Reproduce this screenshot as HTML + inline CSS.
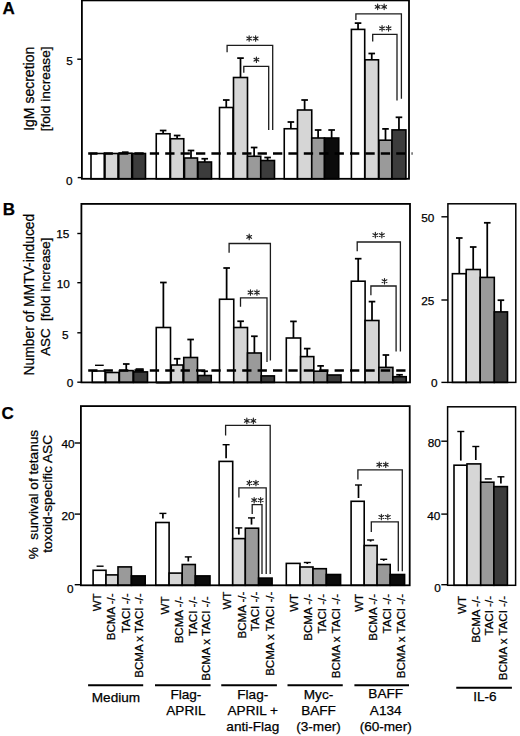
<!DOCTYPE html>
<html><head><meta charset="utf-8"><style>
html,body{margin:0;padding:0;background:#fff;}
svg{display:block;}
text{font-family:"Liberation Sans", sans-serif;fill:#000;stroke:#000;stroke-width:0.25px;}
</style></head><body>
<svg width="520" height="736" viewBox="0 0 520 736">
<rect width="520" height="736" fill="#fff"/>
<text x="2.40" y="14.10" font-size="17" text-anchor="start" font-weight="bold">A</text>
<text transform="translate(34.20,88.80) rotate(-90)" font-size="14.0" text-anchor="middle" font-weight="normal">IgM secretion</text>
<text transform="translate(50.00,88.90) rotate(-90)" font-size="13.65" text-anchor="middle" font-weight="normal">[fold increase]</text>
<line x1="77.30" y1="59.20" x2="81.50" y2="59.20" stroke="#000" stroke-width="1.4"/>
<text x="72.75" y="65.22" font-size="11.8" text-anchor="end">5</text>
<line x1="77.70" y1="177.60" x2="81.50" y2="177.60" stroke="#000" stroke-width="1.4"/>
<text x="72.45" y="184.52" font-size="11.8" text-anchor="end">0</text>
<rect x="91.00" y="153.50" width="13.25" height="25.30" fill="#ffffff" stroke="#000" stroke-width="1.6"/>
<rect x="105.00" y="153.50" width="13.00" height="25.30" fill="#d6d6d6" stroke="#000" stroke-width="1.6"/>
<line x1="125.25" y1="153.20" x2="125.25" y2="152.20" stroke="#000" stroke-width="1.75"/>
<line x1="121.95" y1="152.20" x2="128.55" y2="152.20" stroke="#000" stroke-width="1.75"/>
<rect x="118.75" y="153.20" width="13.00" height="25.60" fill="#9a9a9a" stroke="#000" stroke-width="1.6"/>
<rect x="132.50" y="153.50" width="13.00" height="25.30" fill="#3c3c3c" stroke="#000" stroke-width="1.6"/>
<line x1="163.12" y1="133.75" x2="163.12" y2="130.50" stroke="#000" stroke-width="1.75"/>
<line x1="159.82" y1="130.50" x2="166.43" y2="130.50" stroke="#000" stroke-width="1.75"/>
<rect x="156.25" y="133.75" width="13.75" height="45.05" fill="#ffffff" stroke="#000" stroke-width="1.6"/>
<line x1="177.12" y1="138.75" x2="177.12" y2="135.50" stroke="#000" stroke-width="1.75"/>
<line x1="173.82" y1="135.50" x2="180.43" y2="135.50" stroke="#000" stroke-width="1.75"/>
<rect x="170.50" y="138.75" width="13.25" height="40.05" fill="#d6d6d6" stroke="#000" stroke-width="1.6"/>
<line x1="191.00" y1="158.00" x2="191.00" y2="150.50" stroke="#000" stroke-width="1.75"/>
<line x1="187.70" y1="150.50" x2="194.30" y2="150.50" stroke="#000" stroke-width="1.75"/>
<rect x="184.50" y="158.00" width="13.00" height="20.80" fill="#9a9a9a" stroke="#000" stroke-width="1.6"/>
<line x1="204.75" y1="162.00" x2="204.75" y2="158.75" stroke="#000" stroke-width="1.75"/>
<line x1="201.45" y1="158.75" x2="208.05" y2="158.75" stroke="#000" stroke-width="1.75"/>
<rect x="198.00" y="162.00" width="13.50" height="16.80" fill="#3c3c3c" stroke="#000" stroke-width="1.6"/>
<line x1="226.25" y1="107.50" x2="226.25" y2="100.00" stroke="#000" stroke-width="1.75"/>
<line x1="222.95" y1="100.00" x2="229.55" y2="100.00" stroke="#000" stroke-width="1.75"/>
<rect x="219.50" y="107.50" width="13.50" height="71.30" fill="#ffffff" stroke="#000" stroke-width="1.6"/>
<line x1="240.50" y1="77.50" x2="240.50" y2="58.10" stroke="#000" stroke-width="1.75"/>
<line x1="237.20" y1="58.10" x2="243.80" y2="58.10" stroke="#000" stroke-width="1.75"/>
<rect x="233.50" y="77.50" width="14.00" height="101.30" fill="#d6d6d6" stroke="#000" stroke-width="1.6"/>
<line x1="254.12" y1="156.25" x2="254.12" y2="147.50" stroke="#000" stroke-width="1.75"/>
<line x1="250.82" y1="147.50" x2="257.43" y2="147.50" stroke="#000" stroke-width="1.75"/>
<rect x="247.50" y="156.25" width="13.25" height="22.55" fill="#9a9a9a" stroke="#000" stroke-width="1.6"/>
<line x1="267.62" y1="160.50" x2="267.62" y2="157.50" stroke="#000" stroke-width="1.75"/>
<line x1="264.32" y1="157.50" x2="270.93" y2="157.50" stroke="#000" stroke-width="1.75"/>
<rect x="260.75" y="160.50" width="13.75" height="18.30" fill="#3c3c3c" stroke="#000" stroke-width="1.6"/>
<line x1="290.88" y1="128.75" x2="290.88" y2="122.00" stroke="#000" stroke-width="1.75"/>
<line x1="287.57" y1="122.00" x2="294.18" y2="122.00" stroke="#000" stroke-width="1.75"/>
<rect x="284.25" y="128.75" width="13.25" height="50.05" fill="#ffffff" stroke="#000" stroke-width="1.6"/>
<line x1="304.62" y1="110.00" x2="304.62" y2="100.00" stroke="#000" stroke-width="1.75"/>
<line x1="301.32" y1="100.00" x2="307.93" y2="100.00" stroke="#000" stroke-width="1.75"/>
<rect x="297.50" y="110.00" width="14.25" height="68.80" fill="#d6d6d6" stroke="#000" stroke-width="1.6"/>
<line x1="318.12" y1="138.00" x2="318.12" y2="130.00" stroke="#000" stroke-width="1.75"/>
<line x1="314.82" y1="130.00" x2="321.43" y2="130.00" stroke="#000" stroke-width="1.75"/>
<rect x="311.75" y="138.00" width="12.75" height="40.80" fill="#9a9a9a" stroke="#000" stroke-width="1.6"/>
<line x1="331.62" y1="138.00" x2="331.62" y2="130.00" stroke="#000" stroke-width="1.75"/>
<line x1="328.32" y1="130.00" x2="334.93" y2="130.00" stroke="#000" stroke-width="1.75"/>
<rect x="324.50" y="138.00" width="14.25" height="40.80" fill="#0b0b0b" stroke="#000" stroke-width="1.6"/>
<line x1="358.05" y1="29.40" x2="358.05" y2="23.10" stroke="#000" stroke-width="1.75"/>
<line x1="354.75" y1="23.10" x2="361.35" y2="23.10" stroke="#000" stroke-width="1.75"/>
<rect x="351.40" y="29.40" width="13.30" height="149.40" fill="#ffffff" stroke="#000" stroke-width="1.6"/>
<line x1="371.75" y1="59.80" x2="371.75" y2="53.50" stroke="#000" stroke-width="1.75"/>
<line x1="368.45" y1="53.50" x2="375.05" y2="53.50" stroke="#000" stroke-width="1.75"/>
<rect x="365.00" y="59.80" width="13.50" height="119.00" fill="#d6d6d6" stroke="#000" stroke-width="1.6"/>
<line x1="385.50" y1="140.20" x2="385.50" y2="128.90" stroke="#000" stroke-width="1.75"/>
<line x1="382.20" y1="128.90" x2="388.80" y2="128.90" stroke="#000" stroke-width="1.75"/>
<rect x="379.00" y="140.20" width="13.00" height="38.60" fill="#9a9a9a" stroke="#000" stroke-width="1.6"/>
<line x1="398.95" y1="129.90" x2="398.95" y2="117.30" stroke="#000" stroke-width="1.75"/>
<line x1="395.65" y1="117.30" x2="402.25" y2="117.30" stroke="#000" stroke-width="1.75"/>
<rect x="392.00" y="129.90" width="13.90" height="48.90" fill="#3c3c3c" stroke="#000" stroke-width="1.6"/>
<line x1="88.20" y1="153.5" x2="412.50" y2="153.5" stroke="#000" stroke-width="2.4" stroke-dasharray="9.3 6.1"/>
<path d="M227.10 52.20L227.10 45.30L272.70 45.30L272.70 130.00" fill="none" stroke="#1c1c1c" stroke-width="1.3"/>
<path d="M249.15 35.75L249.15 41.25M246.77 37.12L251.53 39.88M251.53 37.12L246.77 39.88" stroke="#222" stroke-width="1.15" stroke-linecap="round" fill="none"/>
<path d="M255.65 35.75L255.65 41.25M253.27 37.12L258.03 39.88M258.03 37.12L253.27 39.88" stroke="#222" stroke-width="1.15" stroke-linecap="round" fill="none"/>
<path d="M243.80 72.70L243.80 66.30L268.70 66.30L268.70 130.00" fill="none" stroke="#1c1c1c" stroke-width="1.3"/>
<path d="M256.40 56.95L256.40 62.45M254.02 58.33L258.78 61.08M258.78 58.33L254.02 61.08" stroke="#222" stroke-width="1.15" stroke-linecap="round" fill="none"/>
<path d="M355.90 20.00L355.90 13.80L401.40 13.80L401.40 98.70" fill="none" stroke="#1c1c1c" stroke-width="1.3"/>
<path d="M377.65 4.05L377.65 9.55M375.27 5.42L380.03 8.17M380.03 5.42L375.27 8.17" stroke="#222" stroke-width="1.15" stroke-linecap="round" fill="none"/>
<path d="M384.15 4.05L384.15 9.55M381.77 5.42L386.53 8.17M386.53 5.42L381.77 8.17" stroke="#222" stroke-width="1.15" stroke-linecap="round" fill="none"/>
<path d="M372.70 41.50L372.70 34.40L397.00 34.40L397.00 100.50" fill="none" stroke="#1c1c1c" stroke-width="1.3"/>
<path d="M382.05 25.55L382.05 31.05M379.67 26.93L384.43 29.68M384.43 26.93L379.67 29.68" stroke="#222" stroke-width="1.15" stroke-linecap="round" fill="none"/>
<path d="M388.55 25.55L388.55 31.05M386.17 26.93L390.93 29.68M390.93 26.93L386.17 29.68" stroke="#222" stroke-width="1.15" stroke-linecap="round" fill="none"/>
<rect x="81.9" y="0.4" width="327.10" height="178.40" fill="none" stroke="#000" stroke-width="1.8"/>
<text x="2.80" y="215.30" font-size="17" text-anchor="start" font-weight="bold">B</text>
<text transform="translate(34.00,294.60) rotate(-90)" font-size="13.86" text-anchor="middle" font-weight="normal">Number of MMTV-induced</text>
<text transform="translate(50.20,296.70) rotate(-90)" font-size="13.4" text-anchor="middle" font-weight="normal">ASC&#160;&#160;[fold increase]</text>
<line x1="77.30" y1="233.50" x2="81.40" y2="233.50" stroke="#000" stroke-width="1.4"/>
<text x="69.35" y="237.77" font-size="11.8" text-anchor="end">15</text>
<line x1="77.30" y1="282.70" x2="81.40" y2="282.70" stroke="#000" stroke-width="1.4"/>
<text x="69.75" y="288.22" font-size="11.8" text-anchor="end">10</text>
<line x1="77.30" y1="332.80" x2="81.40" y2="332.80" stroke="#000" stroke-width="1.4"/>
<text x="68.55" y="338.52" font-size="11.8" text-anchor="end">5</text>
<line x1="77.30" y1="382.20" x2="81.40" y2="382.20" stroke="#000" stroke-width="1.4"/>
<text x="73.35" y="386.72" font-size="11.8" text-anchor="end">0</text>
<rect x="92.25" y="371.00" width="12.75" height="11.40" fill="#ffffff" stroke="#000" stroke-width="1.6"/>
<rect x="105.80" y="372.50" width="13.20" height="9.90" fill="#d6d6d6" stroke="#000" stroke-width="1.6"/>
<line x1="126.25" y1="370.60" x2="126.25" y2="364.00" stroke="#000" stroke-width="1.75"/>
<line x1="122.95" y1="364.00" x2="129.55" y2="364.00" stroke="#000" stroke-width="1.75"/>
<rect x="119.40" y="370.60" width="13.70" height="11.80" fill="#9a9a9a" stroke="#000" stroke-width="1.6"/>
<rect x="133.60" y="371.90" width="13.90" height="10.50" fill="#3c3c3c" stroke="#000" stroke-width="1.6"/>
<line x1="163.38" y1="327.50" x2="163.38" y2="282.50" stroke="#000" stroke-width="1.75"/>
<line x1="160.07" y1="282.50" x2="166.68" y2="282.50" stroke="#000" stroke-width="1.75"/>
<rect x="156.25" y="327.50" width="14.25" height="54.90" fill="#ffffff" stroke="#000" stroke-width="1.6"/>
<line x1="177.12" y1="365.00" x2="177.12" y2="358.75" stroke="#000" stroke-width="1.75"/>
<line x1="173.82" y1="358.75" x2="180.43" y2="358.75" stroke="#000" stroke-width="1.75"/>
<rect x="171.25" y="365.00" width="11.75" height="17.40" fill="#d6d6d6" stroke="#000" stroke-width="1.6"/>
<line x1="190.62" y1="357.50" x2="190.62" y2="339.50" stroke="#000" stroke-width="1.75"/>
<line x1="187.32" y1="339.50" x2="193.93" y2="339.50" stroke="#000" stroke-width="1.75"/>
<rect x="183.75" y="357.50" width="13.75" height="24.90" fill="#9a9a9a" stroke="#000" stroke-width="1.6"/>
<line x1="204.62" y1="375.50" x2="204.62" y2="371.25" stroke="#000" stroke-width="1.75"/>
<line x1="201.32" y1="371.25" x2="207.93" y2="371.25" stroke="#000" stroke-width="1.75"/>
<rect x="198.00" y="375.50" width="13.25" height="6.90" fill="#3c3c3c" stroke="#000" stroke-width="1.6"/>
<line x1="226.62" y1="299.25" x2="226.62" y2="268.00" stroke="#000" stroke-width="1.75"/>
<line x1="223.32" y1="268.00" x2="229.93" y2="268.00" stroke="#000" stroke-width="1.75"/>
<rect x="219.50" y="299.25" width="14.25" height="83.15" fill="#ffffff" stroke="#000" stroke-width="1.6"/>
<line x1="240.62" y1="327.50" x2="240.62" y2="321.25" stroke="#000" stroke-width="1.75"/>
<line x1="237.32" y1="321.25" x2="243.93" y2="321.25" stroke="#000" stroke-width="1.75"/>
<rect x="233.75" y="327.50" width="13.75" height="54.90" fill="#d6d6d6" stroke="#000" stroke-width="1.6"/>
<line x1="254.38" y1="353.00" x2="254.38" y2="336.25" stroke="#000" stroke-width="1.75"/>
<line x1="251.07" y1="336.25" x2="257.68" y2="336.25" stroke="#000" stroke-width="1.75"/>
<rect x="247.50" y="353.00" width="13.75" height="29.40" fill="#9a9a9a" stroke="#000" stroke-width="1.6"/>
<rect x="261.25" y="375.90" width="13.15" height="6.50" fill="#3c3c3c" stroke="#000" stroke-width="1.6"/>
<line x1="293.45" y1="338.00" x2="293.45" y2="321.40" stroke="#000" stroke-width="1.75"/>
<line x1="290.15" y1="321.40" x2="296.75" y2="321.40" stroke="#000" stroke-width="1.75"/>
<rect x="286.30" y="338.00" width="14.30" height="44.40" fill="#ffffff" stroke="#000" stroke-width="1.6"/>
<line x1="307.20" y1="356.60" x2="307.20" y2="348.60" stroke="#000" stroke-width="1.75"/>
<line x1="303.90" y1="348.60" x2="310.50" y2="348.60" stroke="#000" stroke-width="1.75"/>
<rect x="300.60" y="356.60" width="13.20" height="25.80" fill="#d6d6d6" stroke="#000" stroke-width="1.6"/>
<line x1="320.60" y1="371.20" x2="320.60" y2="365.90" stroke="#000" stroke-width="1.75"/>
<line x1="317.30" y1="365.90" x2="323.90" y2="365.90" stroke="#000" stroke-width="1.75"/>
<rect x="313.80" y="371.20" width="13.60" height="11.20" fill="#9a9a9a" stroke="#000" stroke-width="1.6"/>
<rect x="327.40" y="375.00" width="13.60" height="7.40" fill="#3c3c3c" stroke="#000" stroke-width="1.6"/>
<line x1="358.20" y1="281.20" x2="358.20" y2="258.70" stroke="#000" stroke-width="1.75"/>
<line x1="354.90" y1="258.70" x2="361.50" y2="258.70" stroke="#000" stroke-width="1.75"/>
<rect x="351.30" y="281.20" width="13.80" height="101.20" fill="#ffffff" stroke="#000" stroke-width="1.6"/>
<line x1="372.00" y1="320.50" x2="372.00" y2="301.60" stroke="#000" stroke-width="1.75"/>
<line x1="368.70" y1="301.60" x2="375.30" y2="301.60" stroke="#000" stroke-width="1.75"/>
<rect x="365.10" y="320.50" width="13.80" height="61.90" fill="#d6d6d6" stroke="#000" stroke-width="1.6"/>
<line x1="385.90" y1="367.40" x2="385.90" y2="355.00" stroke="#000" stroke-width="1.75"/>
<line x1="382.60" y1="355.00" x2="389.20" y2="355.00" stroke="#000" stroke-width="1.75"/>
<rect x="378.90" y="367.40" width="14.00" height="15.00" fill="#9a9a9a" stroke="#000" stroke-width="1.6"/>
<line x1="399.55" y1="376.70" x2="399.55" y2="374.80" stroke="#000" stroke-width="1.75"/>
<line x1="396.25" y1="374.80" x2="402.85" y2="374.80" stroke="#000" stroke-width="1.75"/>
<rect x="392.90" y="376.70" width="13.30" height="5.70" fill="#3c3c3c" stroke="#000" stroke-width="1.6"/>
<line x1="95" y1="365.3" x2="103.75" y2="365.3" stroke="#000" stroke-width="1.4"/>
<rect x="135.6" y="368.1" width="8.1" height="3.5" fill="#222"/>
<line x1="156.25" y1="382.7" x2="170.5" y2="382.7" stroke="#000" stroke-width="1.5"/>
<line x1="88.20" y1="370.5" x2="409.00" y2="370.5" stroke="#000" stroke-width="2.4" stroke-dasharray="9.3 6.1"/>
<path d="M229.10 252.70L229.10 243.50L270.40 243.50L270.40 360.60" fill="none" stroke="#1c1c1c" stroke-width="1.3"/>
<path d="M249.20 234.15L249.20 239.65M246.82 235.53L251.58 238.28M251.58 235.53L246.82 238.28" stroke="#222" stroke-width="1.15" stroke-linecap="round" fill="none"/>
<path d="M240.50 306.80L240.50 297.80L267.00 297.80L267.00 361.90" fill="none" stroke="#1c1c1c" stroke-width="1.3"/>
<path d="M250.45 289.75L250.45 295.25M248.07 291.12L252.83 293.88M252.83 291.12L248.07 293.88" stroke="#222" stroke-width="1.15" stroke-linecap="round" fill="none"/>
<path d="M256.95 289.75L256.95 295.25M254.57 291.12L259.33 293.88M259.33 291.12L254.57 293.88" stroke="#222" stroke-width="1.15" stroke-linecap="round" fill="none"/>
<path d="M357.20 251.20L357.20 242.00L400.40 242.00L400.40 351.50" fill="none" stroke="#1c1c1c" stroke-width="1.3"/>
<path d="M375.35 232.35L375.35 237.85M372.97 233.72L377.73 236.47M377.73 233.72L372.97 236.47" stroke="#222" stroke-width="1.15" stroke-linecap="round" fill="none"/>
<path d="M381.85 232.35L381.85 237.85M379.47 233.72L384.23 236.47M384.23 233.72L379.47 236.47" stroke="#222" stroke-width="1.15" stroke-linecap="round" fill="none"/>
<path d="M370.90 295.30L370.90 286.00L396.10 286.00L396.10 351.50" fill="none" stroke="#1c1c1c" stroke-width="1.3"/>
<path d="M384.50 278.45L384.50 283.95M382.12 279.82L386.88 282.57M386.88 279.82L382.12 282.57" stroke="#222" stroke-width="1.15" stroke-linecap="round" fill="none"/>
<rect x="81.4" y="203.9" width="328.60" height="178.50" fill="none" stroke="#000" stroke-width="1.8"/>
<line x1="441.40" y1="216.80" x2="447.90" y2="216.80" stroke="#000" stroke-width="1.4"/>
<text x="434.35" y="222.22" font-size="11.8" text-anchor="end">50</text>
<line x1="441.40" y1="300.00" x2="447.90" y2="300.00" stroke="#000" stroke-width="1.4"/>
<text x="434.35" y="305.12" font-size="11.8" text-anchor="end">25</text>
<line x1="441.40" y1="382.40" x2="447.90" y2="382.40" stroke="#000" stroke-width="1.4"/>
<text x="437.65" y="386.62" font-size="11.8" text-anchor="end">0</text>
<line x1="459.30" y1="273.70" x2="459.30" y2="238.00" stroke="#000" stroke-width="1.75"/>
<line x1="456.00" y1="238.00" x2="462.60" y2="238.00" stroke="#000" stroke-width="1.75"/>
<rect x="452.40" y="273.70" width="13.80" height="108.70" fill="#ffffff" stroke="#000" stroke-width="1.6"/>
<line x1="473.20" y1="269.50" x2="473.20" y2="247.00" stroke="#000" stroke-width="1.75"/>
<line x1="469.90" y1="247.00" x2="476.50" y2="247.00" stroke="#000" stroke-width="1.75"/>
<rect x="466.20" y="269.50" width="14.00" height="112.90" fill="#d6d6d6" stroke="#000" stroke-width="1.6"/>
<line x1="487.25" y1="277.40" x2="487.25" y2="222.80" stroke="#000" stroke-width="1.75"/>
<line x1="483.95" y1="222.80" x2="490.55" y2="222.80" stroke="#000" stroke-width="1.75"/>
<rect x="480.20" y="277.40" width="14.10" height="105.00" fill="#9a9a9a" stroke="#000" stroke-width="1.6"/>
<line x1="500.90" y1="311.90" x2="500.90" y2="300.20" stroke="#000" stroke-width="1.75"/>
<line x1="497.60" y1="300.20" x2="504.20" y2="300.20" stroke="#000" stroke-width="1.75"/>
<rect x="494.30" y="311.90" width="13.20" height="70.50" fill="#3c3c3c" stroke="#000" stroke-width="1.6"/>
<rect x="447.9" y="203.8" width="67.90" height="178.60" fill="none" stroke="#000" stroke-width="1.5"/>
<text x="1.60" y="418.70" font-size="17" text-anchor="start" font-weight="bold">C</text>
<text transform="translate(37.60,494.60) rotate(-90)" font-size="13.63" text-anchor="middle" font-weight="normal">%&#160;&#160;survival of tetanus</text>
<text transform="translate(51.50,493.90) rotate(-90)" font-size="13.7" text-anchor="middle" font-weight="normal">toxoid-specific ASC</text>
<line x1="74.70" y1="443.00" x2="81.00" y2="443.00" stroke="#000" stroke-width="1.4"/>
<text x="74.65" y="447.72" font-size="11.8" text-anchor="end">40</text>
<line x1="74.70" y1="514.10" x2="81.00" y2="514.10" stroke="#000" stroke-width="1.4"/>
<text x="74.65" y="520.42" font-size="11.8" text-anchor="end">20</text>
<line x1="74.70" y1="584.70" x2="81.00" y2="584.70" stroke="#000" stroke-width="1.4"/>
<text x="73.45" y="592.52" font-size="11.8" text-anchor="end">0</text>
<rect x="93.10" y="570.30" width="12.90" height="15.00" fill="#ffffff" stroke="#000" stroke-width="1.6"/>
<rect x="106.00" y="574.90" width="12.00" height="10.40" fill="#d6d6d6" stroke="#000" stroke-width="1.6"/>
<rect x="118.00" y="566.90" width="13.40" height="18.40" fill="#9a9a9a" stroke="#000" stroke-width="1.6"/>
<rect x="131.40" y="575.90" width="13.80" height="9.40" fill="#0b0b0b" stroke="#000" stroke-width="1.6"/>
<rect x="155.80" y="522.50" width="13.30" height="62.80" fill="#ffffff" stroke="#000" stroke-width="1.6"/>
<rect x="169.10" y="573.10" width="13.10" height="12.20" fill="#d6d6d6" stroke="#000" stroke-width="1.6"/>
<rect x="182.20" y="564.50" width="13.10" height="20.80" fill="#9a9a9a" stroke="#000" stroke-width="1.6"/>
<rect x="195.30" y="575.90" width="14.70" height="9.40" fill="#0b0b0b" stroke="#000" stroke-width="1.6"/>
<rect x="219.10" y="461.40" width="13.60" height="123.90" fill="#ffffff" stroke="#000" stroke-width="1.6"/>
<rect x="232.70" y="538.60" width="12.60" height="46.70" fill="#d6d6d6" stroke="#000" stroke-width="1.6"/>
<rect x="245.30" y="528.20" width="13.30" height="57.10" fill="#9a9a9a" stroke="#000" stroke-width="1.6"/>
<rect x="258.60" y="578.10" width="13.50" height="7.20" fill="#0b0b0b" stroke="#000" stroke-width="1.6"/>
<rect x="286.30" y="563.40" width="13.70" height="21.90" fill="#ffffff" stroke="#000" stroke-width="1.6"/>
<rect x="300.00" y="567.00" width="13.00" height="18.30" fill="#d6d6d6" stroke="#000" stroke-width="1.6"/>
<rect x="313.00" y="568.70" width="13.30" height="16.60" fill="#9a9a9a" stroke="#000" stroke-width="1.6"/>
<rect x="326.30" y="574.50" width="14.30" height="10.80" fill="#0b0b0b" stroke="#000" stroke-width="1.6"/>
<rect x="351.10" y="501.30" width="13.10" height="84.00" fill="#ffffff" stroke="#000" stroke-width="1.6"/>
<rect x="364.20" y="545.50" width="12.90" height="39.80" fill="#d6d6d6" stroke="#000" stroke-width="1.6"/>
<rect x="377.10" y="564.50" width="13.10" height="20.80" fill="#9a9a9a" stroke="#000" stroke-width="1.6"/>
<rect x="390.20" y="574.50" width="14.40" height="10.80" fill="#0b0b0b" stroke="#000" stroke-width="1.6"/>
<line x1="96.60" y1="566.20" x2="103.60" y2="566.20" stroke="#000" stroke-width="1.4"/>
<line x1="159.40" y1="513.40" x2="166.40" y2="513.40" stroke="#000" stroke-width="1.4"/>
<line x1="162.90" y1="513.40" x2="162.90" y2="518.50" stroke="#000" stroke-width="1.7"/>
<line x1="184.80" y1="556.90" x2="191.80" y2="556.90" stroke="#000" stroke-width="1.4"/>
<line x1="188.30" y1="556.90" x2="188.30" y2="561.50" stroke="#000" stroke-width="1.7"/>
<line x1="222.60" y1="444.70" x2="229.60" y2="444.70" stroke="#000" stroke-width="1.4"/>
<line x1="226.10" y1="444.70" x2="226.10" y2="458.20" stroke="#000" stroke-width="1.7"/>
<line x1="235.30" y1="527.90" x2="242.30" y2="527.90" stroke="#000" stroke-width="1.4"/>
<line x1="238.80" y1="527.90" x2="238.80" y2="534.60" stroke="#000" stroke-width="1.7"/>
<line x1="248.00" y1="517.90" x2="255.00" y2="517.90" stroke="#000" stroke-width="1.4"/>
<line x1="251.50" y1="517.90" x2="251.50" y2="524.60" stroke="#000" stroke-width="1.7"/>
<line x1="303.80" y1="562.50" x2="310.80" y2="562.50" stroke="#000" stroke-width="1.4"/>
<line x1="307.30" y1="562.50" x2="307.30" y2="564.00" stroke="#000" stroke-width="1.7"/>
<line x1="355.00" y1="485.00" x2="362.00" y2="485.00" stroke="#000" stroke-width="1.4"/>
<line x1="358.50" y1="485.00" x2="358.50" y2="498.00" stroke="#000" stroke-width="1.7"/>
<line x1="367.10" y1="540.00" x2="374.10" y2="540.00" stroke="#000" stroke-width="1.4"/>
<line x1="370.60" y1="540.00" x2="370.60" y2="541.60" stroke="#000" stroke-width="1.7"/>
<line x1="380.20" y1="559.30" x2="387.20" y2="559.30" stroke="#000" stroke-width="1.4"/>
<line x1="383.70" y1="559.30" x2="383.70" y2="560.90" stroke="#000" stroke-width="1.7"/>
<path d="M225.60 435.40L225.60 425.40L270.20 425.40L270.20 574.00" fill="none" stroke="#1c1c1c" stroke-width="1.3"/>
<path d="M246.85 418.15L246.85 423.65M244.47 419.52L249.23 422.27M249.23 419.52L244.47 422.27" stroke="#222" stroke-width="1.15" stroke-linecap="round" fill="none"/>
<path d="M253.35 418.15L253.35 423.65M250.97 419.52L255.73 422.27M255.73 419.52L250.97 422.27" stroke="#222" stroke-width="1.15" stroke-linecap="round" fill="none"/>
<path d="M238.90 497.60L238.90 487.90L266.20 487.90L266.20 574.00" fill="none" stroke="#1c1c1c" stroke-width="1.3"/>
<path d="M249.45 480.25L249.45 485.75M247.07 481.62L251.83 484.38M251.83 481.62L247.07 484.38" stroke="#222" stroke-width="1.15" stroke-linecap="round" fill="none"/>
<path d="M255.95 480.25L255.95 485.75M253.57 481.62L258.33 484.38M258.33 481.62L253.57 484.38" stroke="#222" stroke-width="1.15" stroke-linecap="round" fill="none"/>
<path d="M252.20 514.00L252.20 504.70L262.00 504.70L262.00 574.00" fill="none" stroke="#1c1c1c" stroke-width="1.3"/>
<path d="M254.15 497.45L254.15 502.95M251.77 498.82L256.53 501.57M256.53 498.82L251.77 501.57" stroke="#222" stroke-width="1.15" stroke-linecap="round" fill="none"/>
<path d="M260.65 497.45L260.65 502.95M258.27 498.82L263.03 501.57M263.03 498.82L258.27 501.57" stroke="#222" stroke-width="1.15" stroke-linecap="round" fill="none"/>
<path d="M357.90 479.60L357.90 469.80L402.30 469.80L402.30 571.20" fill="none" stroke="#1c1c1c" stroke-width="1.3"/>
<path d="M379.25 461.95L379.25 467.45M376.87 463.32L381.63 466.07M381.63 463.32L376.87 466.07" stroke="#222" stroke-width="1.15" stroke-linecap="round" fill="none"/>
<path d="M385.75 461.95L385.75 467.45M383.37 463.32L388.13 466.07M388.13 463.32L383.37 466.07" stroke="#222" stroke-width="1.15" stroke-linecap="round" fill="none"/>
<path d="M371.30 532.00L371.30 521.90L398.30 521.90L398.30 571.20" fill="none" stroke="#1c1c1c" stroke-width="1.3"/>
<path d="M381.35 514.25L381.35 519.75M378.97 515.62L383.73 518.38M383.73 515.62L378.97 518.38" stroke="#222" stroke-width="1.15" stroke-linecap="round" fill="none"/>
<path d="M387.85 514.25L387.85 519.75M385.47 515.62L390.23 518.38M390.23 515.62L385.47 518.38" stroke="#222" stroke-width="1.15" stroke-linecap="round" fill="none"/>
<rect x="80.9" y="406.1" width="328.80" height="179.20" fill="none" stroke="#000" stroke-width="1.8"/>
<line x1="441.30" y1="441.20" x2="447.50" y2="441.20" stroke="#000" stroke-width="1.4"/>
<text x="440.75" y="447.32" font-size="11.8" text-anchor="end">80</text>
<line x1="441.30" y1="514.10" x2="447.50" y2="514.10" stroke="#000" stroke-width="1.4"/>
<text x="440.25" y="520.02" font-size="11.8" text-anchor="end">40</text>
<line x1="441.30" y1="584.70" x2="447.50" y2="584.70" stroke="#000" stroke-width="1.4"/>
<text x="440.75" y="591.92" font-size="11.8" text-anchor="end">0</text>
<rect x="454.00" y="465.20" width="13.00" height="120.10" fill="#ffffff" stroke="#000" stroke-width="1.6"/>
<rect x="467.00" y="463.90" width="13.70" height="121.40" fill="#d6d6d6" stroke="#000" stroke-width="1.6"/>
<rect x="480.70" y="482.20" width="13.20" height="103.10" fill="#9a9a9a" stroke="#000" stroke-width="1.6"/>
<rect x="493.90" y="486.60" width="13.50" height="98.70" fill="#3c3c3c" stroke="#000" stroke-width="1.6"/>
<line x1="457.30" y1="431.50" x2="464.30" y2="431.50" stroke="#000" stroke-width="1.4"/>
<line x1="460.80" y1="431.50" x2="460.80" y2="460.60" stroke="#000" stroke-width="1.7"/>
<line x1="472.30" y1="446.50" x2="479.30" y2="446.50" stroke="#000" stroke-width="1.4"/>
<line x1="475.80" y1="446.50" x2="475.80" y2="460.00" stroke="#000" stroke-width="1.7"/>
<line x1="484.80" y1="478.90" x2="491.80" y2="478.90" stroke="#000" stroke-width="1.4"/>
<line x1="497.40" y1="476.80" x2="504.40" y2="476.80" stroke="#000" stroke-width="1.4"/>
<line x1="500.90" y1="476.80" x2="500.90" y2="483.40" stroke="#000" stroke-width="1.7"/>
<rect x="447.6" y="406.8" width="68.00" height="178.50" fill="none" stroke="#000" stroke-width="1.5"/>
<text transform="translate(100.70,593.40) rotate(-90)" font-size="11.55" text-anchor="end" font-weight="normal">WT</text>
<text transform="translate(115.20,593.40) rotate(-90)" font-size="11.55" text-anchor="end" font-weight="normal">BCMA -/-</text>
<text transform="translate(129.50,593.40) rotate(-90)" font-size="11.55" text-anchor="end" font-weight="normal">TACI -/-</text>
<text transform="translate(143.00,593.40) rotate(-90)" font-size="11.55" text-anchor="end" font-weight="normal">BCMA x TACI -/-</text>
<text transform="translate(168.60,596.50) rotate(-90)" font-size="11.55" text-anchor="end" font-weight="normal">WT</text>
<text transform="translate(182.60,596.50) rotate(-90)" font-size="11.55" text-anchor="end" font-weight="normal">BCMA -/-</text>
<text transform="translate(196.80,596.50) rotate(-90)" font-size="11.55" text-anchor="end" font-weight="normal">TACI -/-</text>
<text transform="translate(210.30,596.50) rotate(-90)" font-size="11.55" text-anchor="end" font-weight="normal">BCMA x TACI -/-</text>
<text transform="translate(231.00,591.60) rotate(-90)" font-size="11.55" text-anchor="end" font-weight="normal">WT</text>
<text transform="translate(245.70,591.60) rotate(-90)" font-size="11.55" text-anchor="end" font-weight="normal">BCMA -/-</text>
<text transform="translate(259.20,591.60) rotate(-90)" font-size="11.55" text-anchor="end" font-weight="normal">TACI -/-</text>
<text transform="translate(273.80,591.60) rotate(-90)" font-size="11.55" text-anchor="end" font-weight="normal">BCMA x TACI -/-</text>
<text transform="translate(298.10,593.90) rotate(-90)" font-size="11.55" text-anchor="end" font-weight="normal">WT</text>
<text transform="translate(312.10,593.90) rotate(-90)" font-size="11.55" text-anchor="end" font-weight="normal">BCMA -/-</text>
<text transform="translate(326.30,593.90) rotate(-90)" font-size="11.55" text-anchor="end" font-weight="normal">TACI -/-</text>
<text transform="translate(339.80,593.90) rotate(-90)" font-size="11.55" text-anchor="end" font-weight="normal">BCMA x TACI -/-</text>
<text transform="translate(363.20,593.90) rotate(-90)" font-size="11.55" text-anchor="end" font-weight="normal">WT</text>
<text transform="translate(377.10,593.90) rotate(-90)" font-size="11.55" text-anchor="end" font-weight="normal">BCMA -/-</text>
<text transform="translate(390.90,593.90) rotate(-90)" font-size="11.55" text-anchor="end" font-weight="normal">TACI -/-</text>
<text transform="translate(405.30,593.90) rotate(-90)" font-size="11.55" text-anchor="end" font-weight="normal">BCMA x TACI -/-</text>
<text transform="translate(465.70,596.00) rotate(-90)" font-size="11.55" text-anchor="end" font-weight="normal">WT</text>
<text transform="translate(479.50,596.00) rotate(-90)" font-size="11.55" text-anchor="end" font-weight="normal">BCMA -/-</text>
<text transform="translate(492.90,596.00) rotate(-90)" font-size="11.55" text-anchor="end" font-weight="normal">TACI -/-</text>
<text transform="translate(507.30,596.00) rotate(-90)" font-size="11.55" text-anchor="end" font-weight="normal">BCMA x TACI -/-</text>
<line x1="88.1" y1="685.3" x2="143.2" y2="685.3" stroke="#000" stroke-width="2"/>
<line x1="155.0" y1="685.3" x2="210.6" y2="685.3" stroke="#000" stroke-width="2"/>
<line x1="221.25" y1="685.3" x2="276.9" y2="685.3" stroke="#000" stroke-width="2"/>
<line x1="287.5" y1="685.3" x2="342.75" y2="685.3" stroke="#000" stroke-width="2"/>
<line x1="354.4" y1="685.3" x2="409.0" y2="685.3" stroke="#000" stroke-width="2"/>
<line x1="456.25" y1="687.8" x2="511.9" y2="687.8" stroke="#000" stroke-width="2"/>
<text x="115.95" y="701.50" font-size="13.6" text-anchor="middle" font-weight="normal">Medium</text>
<text x="185.90" y="698.50" font-size="13.6" text-anchor="middle" font-weight="normal">Flag-</text>
<text x="185.90" y="714.90" font-size="13.6" text-anchor="middle" font-weight="normal">APRIL</text>
<text x="252.80" y="698.50" font-size="13.6" text-anchor="middle" font-weight="normal">Flag-</text>
<text x="252.80" y="714.90" font-size="13.6" text-anchor="middle" font-weight="normal">APRIL +</text>
<text x="252.80" y="731.30" font-size="13.6" text-anchor="middle" font-weight="normal">anti-Flag</text>
<text x="318.50" y="698.50" font-size="13.6" text-anchor="middle" font-weight="normal">Myc-</text>
<text x="318.50" y="714.90" font-size="13.6" text-anchor="middle" font-weight="normal">BAFF</text>
<text x="318.50" y="731.30" font-size="13.6" text-anchor="middle" font-weight="normal">(3-mer)</text>
<text x="385.70" y="698.20" font-size="13.6" text-anchor="middle" font-weight="normal">BAFF</text>
<text x="385.70" y="714.60" font-size="13.6" text-anchor="middle" font-weight="normal">A134</text>
<text x="385.70" y="731.00" font-size="13.6" text-anchor="middle" font-weight="normal">(60-mer)</text>
<text x="484.90" y="700.60" font-size="13.6" text-anchor="middle" font-weight="normal">IL-6</text>
</svg>
</body></html>
